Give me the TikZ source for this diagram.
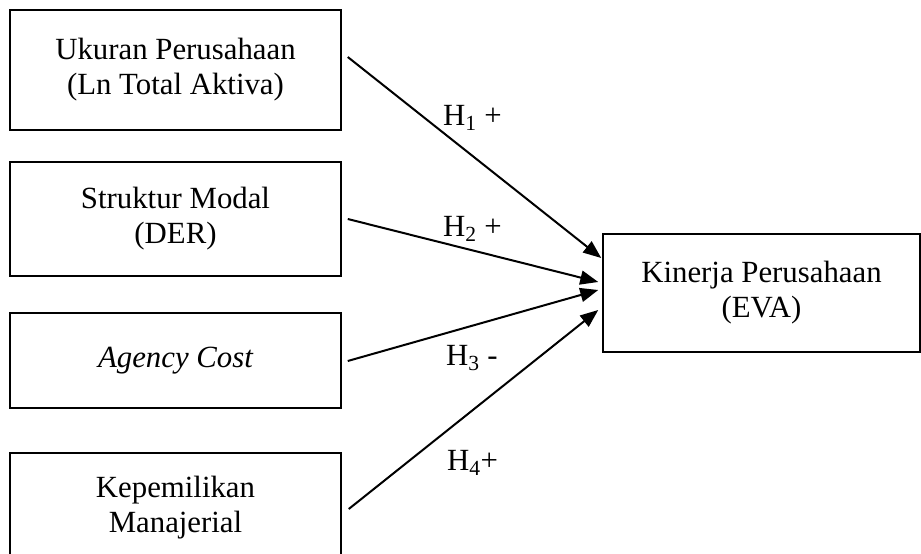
\documentclass[tikz,border=0pt]{standalone}
\usepackage{fontspec}
\setmainfont{Liberation Serif}
\usetikzlibrary{arrows.meta}
\tikzset{
	varbox/.style={draw, line width=1.5pt, align=center, inner sep=0pt,
		font=\fontsize{30.8}{35}\selectfont},
	hyp/.style={anchor=base west, inner sep=0pt, font=\fontsize{30.8}{35}\selectfont},
	arr/.style={line width=2pt, -{Triangle[length=18pt,width=14pt]}}
}
\begin{document}
\begin{tikzpicture}[x=1pt, y=-1pt]
		%%%%% START %%%%%
		\useasboundingbox (0, 0) rectangle (921, 554);
		\clip (0, 0) rectangle (921, 554);
		
		\node[varbox, minimum width=331pt, minimum height=120pt] (ukuran) at (175.5, 70) {Ukuran Perusahaan\\(Ln Total Aktiva)};
		\node[varbox, minimum width=331pt, minimum height=114pt] (modal) at (175.5, 219) {Struktur Modal\\(DER)};
		\node[varbox, minimum width=331pt, minimum height=95pt] (agency) at (175.5, 360.5) {\itshape Agency Cost};
		\node[varbox, minimum width=331pt, minimum height=110pt] (manajerial) at (175.5, 508) {Kepemilikan\\Manajerial};
		
		\node[varbox, minimum width=317pt, minimum height=118pt] (kinerja) at (761.5, 293) {Kinerja Perusahaan\\(EVA)};
		
		\draw[arr] ([shift={(6,-13)}]ukuran.east) -- ([shift={(-1,-35)}]kinerja.west);
		\draw[arr] ([shift={(6,0)}]modal.east) -- ([shift={(-4,-11)}]kinerja.west);
		\draw[arr] ([shift={(6,0.5)}]agency.east) -- ([shift={(-4,-3)}]kinerja.west);
		\draw[arr] ([shift={(7,1)}]manajerial.east) -- ([shift={(-4,17)}]kinerja.west);
		
		\node[hyp] (h1) at (443, 125) {H\textsubscript{1} +};
		\node[hyp] (h2) at (443, 236) {H\textsubscript{2} +};
		\node[hyp] (h3) at (446, 365) {H\textsubscript{3} -};
		\node[hyp] (h4) at (447, 470) {H\textsubscript{4}+};
		%%%%% END %%%%%
\end{tikzpicture}
\end{document}
